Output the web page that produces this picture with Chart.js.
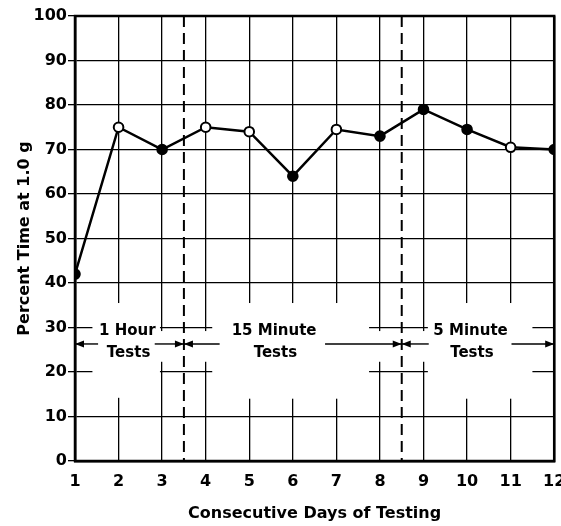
<!DOCTYPE html>
<html>
<head>
<meta charset="utf-8">
<script src="https://cdn.jsdelivr.net/npm/chart.js@4.4.1/dist/chart.umd.min.js"></script>
<style>
  html, body { margin: 0; padding: 0; background: #fff; }
  #wrap { width: 561px; height: 526px; }
</style>
</head>
<body>
<div id="wrap"><canvas id="c"></canvas></div>
<script>
// values
const days = [1, 2, 3, 4, 5, 6, 7, 8, 9, 10, 11, 12];
const percentTime = [42, 75, 70, 75, 74, 64, 74.5, 73, 79, 74.5, 70.5, 70];
const openMarker = [false, true, false, true, true, false, true, false, false, false, true, false];
const phaseBreaks = [3.5, 8.5];
const phaseNames = [['1 Hour', 'Tests'], ['15 Minute', 'Tests'], ['5 Minute', 'Tests']];

const FONT = '"DejaVu Sans", sans-serif';

const phasePlugin = {
    id: 'phases',
    beforeDatasetsDraw(chart) {
        const { ctx, chartArea: a, scales: { x, y } } = chart;
        const X = v => x.getPixelForValue(v);
        const Y = v => y.getPixelForValue(v);
        ctx.save();

        // grid is broken behind the phase labels
        ctx.fillStyle = '#fff';
        [[1.4, 2.95, 14.2, 35.5], [2.9, 4.25, 22.3, 29.2], [4.15, 7.75, 14, 35.5],
         [7.7, 9.15, 22.3, 29.2], [9.1, 11.5, 14, 35.5]].forEach(([x0, x1, y0, y1]) => {
            ctx.fillRect(X(x0), Y(y1), X(x1) - X(x0), Y(y0) - Y(y1));
        });

        // frame
        ctx.strokeStyle = '#000';
        ctx.lineWidth = 2.5;
        ctx.strokeRect(a.left, a.top, a.right - a.left, a.bottom - a.top);

        // dashed phase separators
        ctx.lineWidth = 2;
        ctx.setLineDash([11, 6]);
        phaseBreaks.forEach(b => {
            ctx.beginPath();
            ctx.moveTo(X(b), a.top);
            ctx.lineTo(X(b), a.bottom);
            ctx.stroke();
        });
        ctx.setLineDash([]);

        // arrows
        const ay = Y(26.3);
        ctx.lineWidth = 1.4;
        ctx.fillStyle = '#000';
        const arrow = (from, to) => {
            const x0 = X(from), x1 = X(to), d = Math.sign(x1 - x0);
            ctx.beginPath();
            ctx.moveTo(x0, ay);
            ctx.lineTo(x1, ay);
            ctx.stroke();
            ctx.beginPath();
            ctx.moveTo(x1, ay);
            ctx.lineTo(x1 - d * 9, ay - 3.5);
            ctx.lineTo(x1 - d * 9, ay + 3.5);
            ctx.closePath();
            ctx.fill();
        };
        arrow(1.53, 1);
        arrow(2.83, phaseBreaks[0]);
        arrow(4.32, phaseBreaks[0]);
        arrow(6.74, phaseBreaks[1]);
        arrow(9.12, phaseBreaks[1]);
        arrow(11.02, 12);

        // phase labels
        ctx.font = 'bold 15px ' + FONT;
        ctx.textAlign = 'center';
        ctx.textBaseline = 'middle';
        [2.2, 5.57, 10.08].forEach((cx, i) => {
            ctx.fillText(phaseNames[i][0], X(cx), Y(29.2));
            ctx.fillText(phaseNames[i][1], X(cx + 0.03), Y(24.3));
        });
        ctx.restore();
    }
};

new Chart(document.getElementById('c'), {
    type: 'line',
    data: {
        datasets: [{
            data: days.map((d, i) => ({ x: d, y: percentTime[i] })),
            borderColor: '#000',
            borderWidth: 2.5,
            pointRadius: 4.8,
            pointBorderWidth: 2,
            pointBorderColor: '#000',
            pointBackgroundColor: openMarker.map(o => o ? '#fff' : '#000'),
            tension: 0
        }]
    },
    options: {
        responsive: true,
        maintainAspectRatio: false,
        animation: false,
        layout: { padding: { top: 16, right: 1, left: 0, bottom: 0 } },
        plugins: { legend: { display: false }, tooltip: { enabled: false } },
        scales: {
            x: {
                type: 'linear',
                min: 1,
                max: 12,
                ticks: { stepSize: 1, color: '#000', padding: 11, font: { family: FONT, size: 16, weight: 'bold' } },
                grid: { color: '#000', lineWidth: 1.3, drawTicks: false },
                border: { color: '#000', width: 2.5 },
                title: {
                    display: true,
                    text: 'Consecutive Days of Testing',
                    color: '#000',
                    font: { family: FONT, size: 16, weight: 'bold' },
                    padding: { top: 4, bottom: 3 }
                },
                afterFit: s => { s.height = 65; s.paddingLeft = 0; s.paddingRight = 0; }
            },
            y: {
                min: 0,
                max: 100,
                ticks: { stepSize: 10, color: '#000', padding: 1, font: { family: FONT, size: 16, weight: 'bold' } },
                grid: { color: '#000', lineWidth: 1.3, tickLength: 7 },
                border: { color: '#000', width: 2.5 },
                title: {
                    display: true,
                    text: 'Percent Time at 1.0 g',
                    color: '#000',
                    font: { family: FONT, size: 16, weight: 'bold' },
                    padding: { top: 15, bottom: 0 }
                },
                afterFit: s => { s.width = 75; }
            }
        }
    },
    plugins: [phasePlugin]
});
</script>
</body>
</html>
